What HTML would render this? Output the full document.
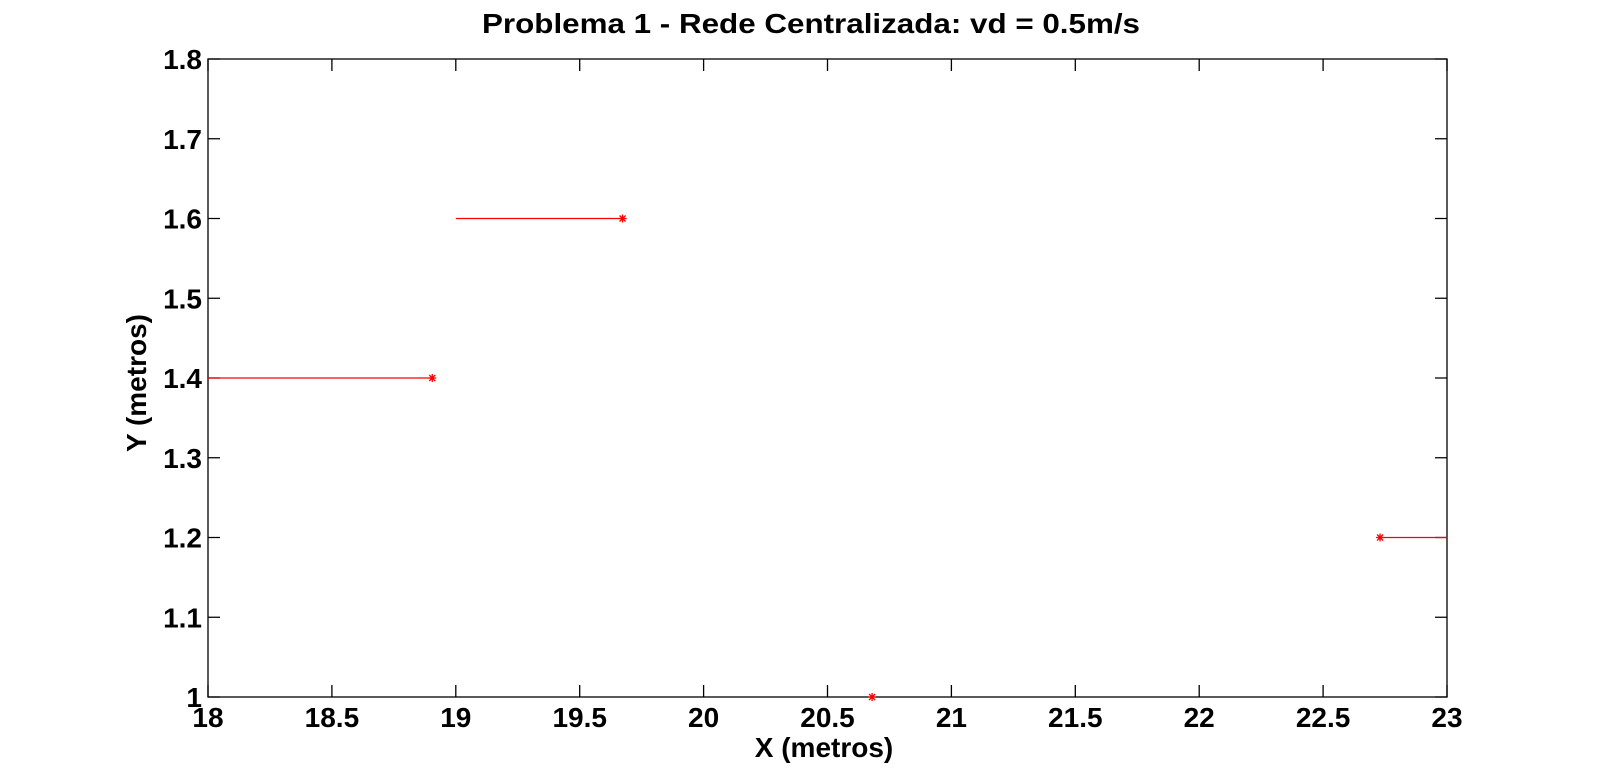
<!DOCTYPE html>
<html><head><meta charset="utf-8"><style>
html,body{margin:0;padding:0;background:#fff;}
svg{display:block;font-family:"Liberation Sans",Arial,sans-serif;}
</style></head><body>
<svg id="chart" width="1599" height="783" viewBox="0 0 1599 783" xmlns="http://www.w3.org/2000/svg">
<rect width="1599" height="783" fill="#fff"/>
<g id="g"></g>
</svg>
<script>
const xTicks=[18,18.5,19,19.5,20,20.5,21,21.5,22,22.5,23];
const xTickLabels=["18","18.5","19","19.5","20","20.5","21","21.5","22","22.5","23"];
const yTicks=[1,1.1,1.2,1.3,1.4,1.5,1.6,1.7,1.8];
const yTickLabels=["1","1.1","1.2","1.3","1.4","1.5","1.6","1.7","1.8"];
const segStartX=[18,19,23,20.68];
const segEndX=[18.905,19.673,22.73,20.68];
const segY=[1.4,1.6,1.2,1.0];
const L=208,R=1447,T=59,B=697,X0=18,X1=23,Y0=1,Y1=1.8;
function sx(v){return L+(v-X0)/(X1-X0)*(R-L);}
function sy(v){return B-(v-Y0)/(Y1-Y0)*(B-T);}
const NS="http://www.w3.org/2000/svg";
const g=document.getElementById('g');
function mk(t,a){const e=document.createElementNS(NS,t);for(const k in a)e.setAttribute(k,a[k]);g.appendChild(e);return e;}
let e;
e=mk('rect',{x:L,y:T,width:R-L,height:B-T,fill:'none',stroke:'#000','stroke-width':1.3});


xTicks.forEach((v,i)=>{
 const x=sx(v);
 e=mk('path',{d:`M${x},${B}v-12M${x},${T}v12`,stroke:'#000','stroke-width':1.3});
 
 
 e=mk('text',{x:x,y:727,'text-anchor':'middle','font-size':28,'font-weight':'bold'});
 e.textContent=xTickLabels[i];
 
 
});
yTicks.forEach((v,i)=>{
 const y=sy(v);
 e=mk('path',{d:`M${L},${y}h12M${R},${y}h-12`,stroke:'#000','stroke-width':1.3});
 
 
 e=mk('text',{x:202,y:y+10,'text-anchor':'end','font-size':28,'font-weight':'bold'});
 e.textContent=yTickLabels[i];
 
 
});
segY.forEach((v,i)=>{
 const y=sy(v),xa=sx(segStartX[i]),xb=sx(segEndX[i]);
 if(xa!==xb){
  e=mk('line',{x1:xa,y1:y,x2:xb,y2:y,stroke:'#f00','stroke-width':1.3});
  
  
 }
 const mx=xb;
 e=mk('path',{d:`M${mx-4},${y}h8M${mx},${y-4}v8M${mx-3},${y-3}l6,6M${mx-3},${y+3}l6,-6`,stroke:'#f00','stroke-width':1.3});
 
 
});
e=mk('text',{x:811,y:33,'text-anchor':'middle','font-size':28,'font-weight':'bold',textLength:658,lengthAdjust:'spacingAndGlyphs'});
e.textContent='Problema 1 - Rede Centralizada: vd = 0.5m/s';


e=mk('text',{x:824,y:757,'text-anchor':'middle','font-size':28,'font-weight':'bold'});
e.textContent='X (metros)';


e=mk('text',{x:0,y:0,'text-anchor':'middle','font-size':28,'font-weight':'bold',transform:'translate(146,383) rotate(-90)'});
e.textContent='Y (metros)';


</script>
</body></html>
